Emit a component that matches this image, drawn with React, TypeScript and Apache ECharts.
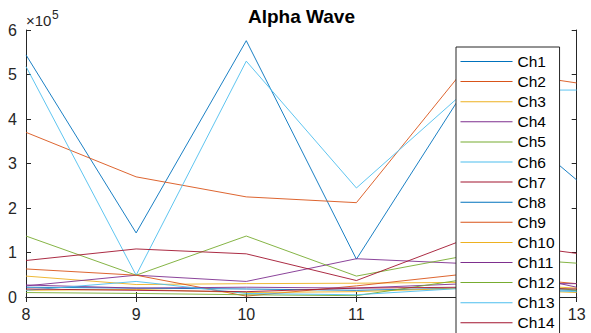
import React, { useEffect, useRef } from "react";
import * as echarts from "echarts";

const xValues = [8, 9, 10, 11, 12, 13];
const channelNames = ["Ch1","Ch2","Ch3","Ch4","Ch5","Ch6","Ch7","Ch8","Ch9","Ch10","Ch11","Ch12","Ch13","Ch14"];
// values in units of 1e5
const ch1 = [5.44, 1.44, 5.76, 0.85, 4.72, 2.63];
const ch2 = [3.70, 2.70, 2.25, 2.12, 5.18, 4.81];
const ch3 = [0.47, 0.28, 0.30, 0.31, 0.33, 0.20];
const ch4 = [0.25, 0.49, 0.35, 0.86, 0.75, 0.22];
const ch5 = [1.37, 0.49, 1.37, 0.47, 0.93, 0.76];
const ch6 = [5.18, 0.49, 5.30, 2.45, 4.65, 4.65];
const ch7 = [0.82, 1.08, 0.97, 0.37, 1.31, 0.98];
const ch8 = [0.22, 0.20, 0.18, 0.15, 0.20, 0.15];
const ch9 = [0.63, 0.49, 0.02, 0.25, 0.52, 0.30];
const ch10 = [0.15, 0.17, 0.10, 0.12, 0.20, 0.10];
const ch11 = [0.27, 0.20, 0.22, 0.20, 0.30, 0.30];
const ch12 = [0.10, 0.08, 0.05, 0.03, 0.40, 0.15];
const ch13 = [0.15, 0.35, 0.08, 0.05, 0.20, 0.12];
const ch14 = [0.18, 0.15, 0.12, 0.20, 0.22, 0.18];
const channelValues = [ch1, ch2, ch3, ch4, ch5, ch6, ch7, ch8, ch9, ch10, ch11, ch12, ch13, ch14];
const yTickValues = [0, 1, 2, 3, 4, 5, 6];
const SCALE = 1e5;

const palette = ["#0072BD", "#D95319", "#EDB120", "#7E2F8E", "#77AC30", "#4DBEEE", "#A2142F"];
const FONT = "'Liberation Sans', Arial, Helvetica, sans-serif";
const AX = "#262626";

export default function App() {
  const ref = useRef<HTMLDivElement>(null);
  useEffect(() => {
    if (!ref.current) return;
    const chart = echarts.init(ref.current, null, { renderer: "svg" });
    const series = channelNames.map((name, i) => ({
      name,
      type: "line",
      xAxisIndex: 0,
      yAxisIndex: 0,
      symbol: "none",
      showSymbol: false,
      data: xValues.map((x, j) => [x, channelValues[i][j] * SCALE]),
      lineStyle: { width: 0.9, color: palette[i % palette.length] },
      itemStyle: { color: palette[i % palette.length] },
      z: 2,
    }));
    const commonAxisLine = { show: true, lineStyle: { color: AX, width: 1 } };
    const commonTick = { show: true, inside: true, length: 5, lineStyle: { color: AX, width: 1 } };
    chart.setOption({
      animation: false,
      textStyle: { fontFamily: FONT },
      grid: { left: 26, right: 14.3, top: 30, bottom: 36, containLabel: false },
      xAxis: [
        {
          type: "value", min: 8, max: 13, interval: 1, position: "bottom",
          axisLine: commonAxisLine, axisTick: commonTick, splitLine: { show: false },
          axisLabel: { color: AX, fontSize: 16, fontFamily: FONT, margin: 9 },
        },
        {
          type: "value", min: 8, max: 13, interval: 1, position: "top",
          axisLine: commonAxisLine, axisTick: commonTick, splitLine: { show: false },
          axisLabel: { show: false },
        },
      ],
      yAxis: [
        {
          type: "value", min: 0, max: 6 * SCALE, interval: SCALE, position: "left",
          axisLine: commonAxisLine, axisTick: commonTick, splitLine: { show: false },
          axisLabel: {
            color: AX, fontSize: 16, fontFamily: FONT, margin: 9,
            formatter: (v: number) => {
              const t = Math.round(v / SCALE);
              return yTickValues.includes(t) ? String(t) : "";
            },
          },
        },
        {
          type: "value", min: 0, max: 6 * SCALE, interval: SCALE, position: "right",
          axisLine: commonAxisLine, axisTick: commonTick, splitLine: { show: false },
          axisLabel: { show: false },
        },
      ],
      legend: {
        orient: "vertical",
        left: 456,
        top: 47,
        height: 400,
        padding: [6.5, 5, 5, 4.5],
        itemWidth: 52,
        itemHeight: 15,
        itemGap: 4.1,
        icon: "path://M0,0H52V1H0Z",
        symbolKeepAspect: true,
        backgroundColor: "#ffffff",
        borderColor: AX,
        borderWidth: 1,
        borderRadius: 0,
        textStyle: { color: "#000000", fontSize: 15.5, fontFamily: FONT, lineHeight: 15 },
        data: channelNames,
        z: 10,
      },
      graphic: [
        {
          type: "text", x: 301.5, y: 16.7, z: 20,
          style: { text: "Alpha Wave", font: `bold 19px ${FONT}`, fill: "#000000", align: "center", verticalAlign: "middle" },
        },
        {
          type: "text", x: 26, y: 20.5, z: 20,
          style: { text: "×10", font: `15px ${FONT}`, fill: AX, align: "left", verticalAlign: "middle" },
        },
        {
          type: "text", x: 52, y: 15, z: 20,
          style: { text: "5", font: `12px ${FONT}`, fill: AX, align: "left", verticalAlign: "middle" },
        },
      ],
      series,
    });
    return () => chart.dispose();
  }, []);
  return (
    <div
      ref={ref}
      style={{ position: "fixed", left: 0, top: 0, width: 591, height: 333, background: "#ffffff" }}
    />
  );
}
